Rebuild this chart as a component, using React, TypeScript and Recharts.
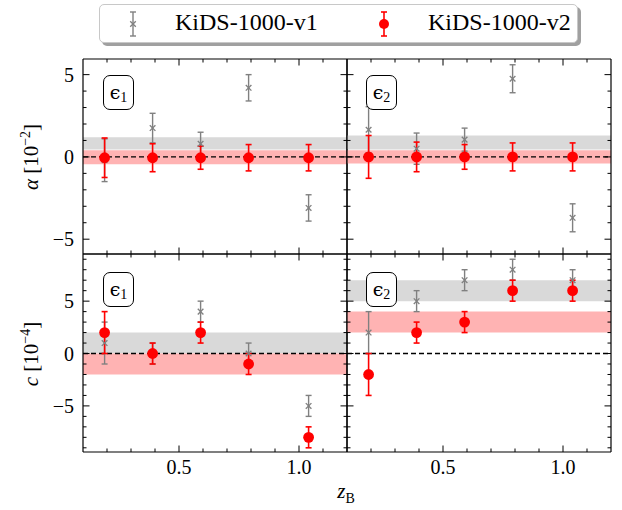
import React from 'react';
import { ScatterChart, Scatter, XAxis, YAxis, ErrorBar, ReferenceArea, ReferenceLine } from 'recharts';

const W = 622;
const H = 510;

// tomographic bin centres
const zBins = [0.19, 0.39, 0.59, 0.79, 1.04];

// alpha [10^-2], epsilon_1
const alphaE1V1 = [-0.2, 1.75, 0.8, 4.2, -3.1];
const alphaE1V1Err = [1.3, 0.9, 0.7, 0.8, 0.8];
const alphaE1V2 = [-0.05, -0.05, -0.05, -0.05, -0.05];
const alphaE1V2Err = [1.2, 0.85, 0.7, 0.8, 0.8];
// alpha [10^-2], epsilon_2
const alphaE2V1 = [1.65, 0.5, 1.05, 4.75, -3.7];
const alphaE2V1Err = [1.4, 0.95, 0.7, 0.85, 0.85];
const alphaE2V2 = [0, 0, 0, 0, 0];
const alphaE2V2Err = [1.3, 0.9, 0.75, 0.85, 0.85];
// c [10^-4], epsilon_1
const cE1V1 = [1, 0, 4, 0, -5];
const cE1V1Err = [2, 1, 1, 1, 1];
const cE1V2 = [2, 0, 2, -1, -8];
const cE1V2Err = [2, 1, 1, 1, 1];
// c [10^-4], epsilon_2
const cE2V1 = [2, 5, 7, 8, 7];
const cE2V1Err = [2, 1, 1, 1, 1];
const cE2V2 = [-2, 2, 3, 6, 6];
const cE2V2Err = [2, 1, 1, 1, 1];

// shaded bands [low, high]
const alphaE1Bands = { v1: [0.45, 1.2], v2: [-0.45, 0.4] };
const alphaE2Bands = { v1: [0.45, 1.3], v2: [-0.4, 0.4] };
const cE1Bands = { v1: [0, 2], v2: [-2, 0] };
const cE2Bands = { v1: [5, 7], v2: [2, 4] };

const xTicks = [0.2, 0.3, 0.4, 0.5, 0.6, 0.7, 0.8, 0.9, 1.0, 1.1];
const xMajor = [0.5, 1.0];
const alphaTicks = [-5, -4, -3, -2, -1, 0, 1, 2, 3, 4, 5];
const cTicks = [-9, -8, -7, -6, -5, -4, -3, -2, -1, 0, 1, 2, 3, 4, 5, 6, 7, 8, 9];
const yMajor = [-5, 0, 5];

const colX = [83, 347, 611];
const rowY = [59, 254, 452];

const GREY = '#808080';
const RED = '#ff0000';
const FONT = '"Liberation Serif", "DejaVu Serif", serif';

const toPoints = (vals: number[], errs: number[]) =>
  zBins.map((z, i) => ({ z, v: vals[i], err: errs[i] }));

const fmtY = (v: number) => (v < 0 ? `\u2212${Math.abs(v)}` : `${v}`);

const makeTick = (side: 'left' | 'right' | 'top' | 'bottom', showLabel: boolean) => (props: any) => {
  const { x, y, payload } = props;
  const v = payload.value as number;
  const isX = side === 'top' || side === 'bottom';
  const major = isX ? xMajor.some((m) => Math.abs(m - v) < 1e-6) : yMajor.includes(v);
  const len = major ? 6.5 : 3.5;
  let line;
  if (side === 'left') line = <line x1={x} y1={y} x2={x + len} y2={y} />;
  else if (side === 'right') line = <line x1={x} y1={y} x2={x - len} y2={y} />;
  else if (side === 'top') line = <line x1={x} y1={y} x2={x} y2={y + len} />;
  else line = <line x1={x} y1={y} x2={x} y2={y - len} />;
  return (
    <g>
      <g stroke="#000" strokeWidth={1}>{line}</g>
      {showLabel && major && side === 'left' && (
        <text x={x - 9} y={y + 7} textAnchor="end" fontSize={20} fontFamily={FONT} fill="#000">
          {fmtY(v)}
        </text>
      )}
      {showLabel && major && side === 'bottom' && (
        <text x={x} y={y + 22} textAnchor="middle" fontSize={20} fontFamily={FONT} fill="#000">
          {v.toFixed(1)}
        </text>
      )}
    </g>
  );
};

const RedDot = (p: any) => <circle cx={p.cx} cy={p.cy} r={5.4} fill={RED} />;
const GreyCross = (p: any) => (
  <g stroke={GREY} strokeWidth={1.3}>
    <line x1={p.cx - 2.8} y1={p.cy - 2.8} x2={p.cx + 2.8} y2={p.cy + 2.8} />
    <line x1={p.cx - 2.8} y1={p.cy + 2.8} x2={p.cx + 2.8} y2={p.cy - 2.8} />
  </g>
);

type PanelProps = {
  col: number;
  row: number;
  v1: number[];
  v1Err: number[];
  v2: number[];
  v2Err: number[];
  bands: { v1: number[]; v2: number[] };
  yDomain: [number, number];
  yTicks: number[];
};

const Panel = ({ col, row, v1, v1Err, v2, v2Err, bands, yDomain, yTicks }: PanelProps) => {
  // axes are 1px thick, so the margins leave room for them
  const margin = {
    left: colX[col] - 1,
    right: W - colX[col + 1] - 1,
    top: rowY[row] - 1,
    bottom: H - rowY[row + 1] - 1,
  };
  const axisLine = { stroke: '#000', strokeWidth: 1.2 };
  return (
    <div style={{ position: 'absolute', left: 0, top: 0 }}>
      <ScatterChart width={W} height={H} margin={margin}>
        <XAxis xAxisId="b" orientation="bottom" type="number" dataKey="z" domain={[0.1, 1.2]} allowDataOverflow
          ticks={xTicks} interval={0} height={1} tickSize={0} tickMargin={0} axisLine={axisLine}
          tick={makeTick('bottom', row === 1)} />
        <XAxis xAxisId="t" orientation="top" type="number" dataKey="z" domain={[0.1, 1.2]} allowDataOverflow
          ticks={xTicks} interval={0} height={1} tickSize={0} tickMargin={0} axisLine={axisLine}
          tick={makeTick('top', false)} />
        <YAxis yAxisId="l" orientation="left" type="number" dataKey="v" domain={yDomain} allowDataOverflow
          ticks={yTicks} interval={0} width={1} tickSize={0} tickMargin={0} axisLine={axisLine}
          tick={makeTick('left', col === 0)} />
        <YAxis yAxisId="r" orientation="right" type="number" dataKey="v" domain={yDomain} allowDataOverflow
          ticks={yTicks} interval={0} width={1} tickSize={0} tickMargin={0} axisLine={axisLine}
          tick={makeTick('right', false)} />
        <ReferenceArea xAxisId="b" yAxisId="l" y1={bands.v1[0]} y2={bands.v1[1]} fill="#d9d9d9" fillOpacity={1} stroke="none" />
        <ReferenceArea xAxisId="b" yAxisId="l" y1={bands.v2[0]} y2={bands.v2[1]} fill="#ffb3b3" fillOpacity={1} stroke="none" />
        <ReferenceLine xAxisId="b" yAxisId="l" y={0} stroke="#000" strokeWidth={1.3} strokeDasharray="5 3" />
        <Scatter xAxisId="b" yAxisId="l" data={toPoints(v1, v1Err)} dataKey="v" shape={GreyCross} isAnimationActive={false}>
          <ErrorBar dataKey="err" direction="y" width={3} stroke={GREY} strokeWidth={1.4} isAnimationActive={false} />
        </Scatter>
        <Scatter xAxisId="b" yAxisId="l" data={toPoints(v2, v2Err)} dataKey="v" shape={RedDot} isAnimationActive={false}>
          <ErrorBar dataKey="err" direction="y" width={3} stroke={RED} strokeWidth={1.6} isAnimationActive={false} />
        </Scatter>
      </ScatterChart>
    </div>
  );
};

const Tag = ({ left, top, idx }: { left: number; top: number; idx: string }) => (
  <div
    style={{
      position: 'absolute', left, top, width: 29, height: 33, border: '1.3px solid #000', borderRadius: 7,
      background: '#fff', display: 'flex', alignItems: 'center', justifyContent: 'center',
      fontFamily: '"DejaVu Serif", serif', fontSize: 19, lineHeight: 1,
    }}
  >
    <span>{'\u03f5'}</span>
    <span style={{ fontSize: 14, position: 'relative', top: 5, fontFamily: FONT }}>{idx}</span>
  </div>
);

const LegendMarker = ({ red }: { red: boolean }) => (
  <svg width={14} height={30} style={{ display: 'block' }}>
    <g stroke={red ? RED : GREY} strokeWidth={red ? 1.6 : 1.4}>
      <line x1={7} y1={3} x2={7} y2={27} />
      <line x1={4} y1={3} x2={10} y2={3} />
      <line x1={4} y1={27} x2={10} y2={27} />
    </g>
    {red ? <circle cx={7} cy={15} r={5} fill={RED} /> : <GreyCross cx={7} cy={15} />}
  </svg>
);

export default function App() {
  return (
    <div style={{ position: 'absolute', left: 0, top: 0, width: W, height: H, background: '#fff', fontFamily: FONT }}>
      <Panel col={0} row={0} v1={alphaE1V1} v1Err={alphaE1V1Err} v2={alphaE1V2} v2Err={alphaE1V2Err}
        bands={alphaE1Bands} yDomain={[-5.9, 5.95]} yTicks={alphaTicks} />
      <Panel col={1} row={0} v1={alphaE2V1} v1Err={alphaE2V1Err} v2={alphaE2V2} v2Err={alphaE2V2Err}
        bands={alphaE2Bands} yDomain={[-5.9, 5.95]} yTicks={alphaTicks} />
      <Panel col={0} row={1} v1={cE1V1} v1Err={cE1V1Err} v2={cE1V2} v2Err={cE1V2Err}
        bands={cE1Bands} yDomain={[-9.4, 9.5]} yTicks={cTicks} />
      <Panel col={1} row={1} v1={cE2V1} v1Err={cE2V1Err} v2={cE2V2} v2Err={cE2V2Err}
        bands={cE2Bands} yDomain={[-9.4, 9.5]} yTicks={cTicks} />

      <Tag left={103} top={75} idx="1" />
      <Tag left={366} top={75} idx="2" />
      <Tag left={103} top={272} idx="1" />
      <Tag left={366} top={272} idx="2" />

      <div
        style={{
          position: 'absolute', left: 99, top: 4, width: 477, height: 37, border: '1px solid #c8c8c8',
          borderRadius: 5, background: '#fff', boxShadow: '3px 3px 0 #a0a0a0',
          fontSize: 24, whiteSpace: 'nowrap',
        }}
      >
        <div style={{ position: 'absolute', left: 26, top: 4 }}><LegendMarker red={false} /></div>
        <div style={{ position: 'absolute', left: 75, top: 4 }}>KiDS-1000-v1</div>
        <div style={{ position: 'absolute', left: 277, top: 4 }}><LegendMarker red /></div>
        <div style={{ position: 'absolute', left: 328, top: 4 }}>KiDS-1000-v2</div>
      </div>

      <div style={{ position: 'absolute', left: 31, top: 157, transform: 'translate(-50%, -50%) rotate(-90deg)', fontSize: 21, whiteSpace: 'nowrap' }}>
        <i>{'\u03b1'}</i> [10<sup style={{ fontSize: 14 }}>{'\u22122'}</sup>]
      </div>
      <div style={{ position: 'absolute', left: 31, top: 354, transform: 'translate(-50%, -50%) rotate(-90deg)', fontSize: 21, whiteSpace: 'nowrap' }}>
        <i>c</i> [10<sup style={{ fontSize: 14 }}>{'\u22124'}</sup>]
      </div>
      <div style={{ position: 'absolute', left: 346, top: 493, transform: 'translate(-50%, -50%)', fontSize: 21, whiteSpace: 'nowrap' }}>
        <i>z</i><sub style={{ fontSize: 14 }}>B</sub>
      </div>
    </div>
  );
}
